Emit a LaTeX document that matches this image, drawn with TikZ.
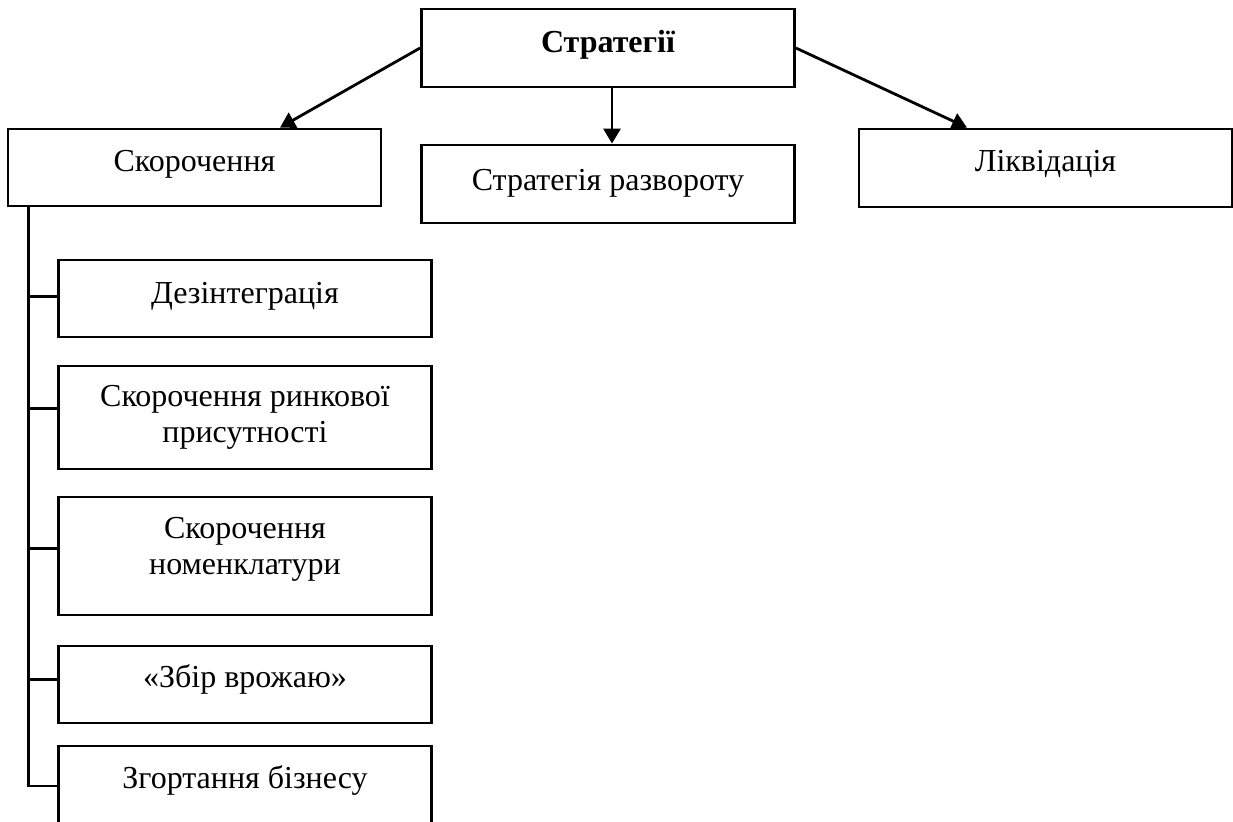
\documentclass[tikz,border=0pt]{standalone}
\usepackage{fontspec}
\setmainfont{Liberation Serif}
\usetikzlibrary{arrows.meta}
\newcommand{\twoline}[2]{\begin{tabular}[t]{@{}c@{}}#1\\#2\end{tabular}}
\tikzset{
	box/.style={draw, line width=1.4pt, minimum width=186.5pt, font=\fontsize{16}{18}\selectfont},
	oneline/.style={text height=12pt, text depth=8pt},
	link/.style={line width=1.4pt},
	arr/.style={link, -{Triangle[length=7.5pt, width=8.5pt]}}
}
\begin{document}
\begin{tikzpicture}[x=0.5pt, y=-0.5pt]
		\useasboundingbox (0,0) rectangle (1233,822);
		\node (top) [box, oneline, minimum height=39pt, text depth=7pt] at (608,48) {\bfseries Стратегії};
		\node (s) [box, oneline, minimum height=38.5pt] at (194.5,167.5) {Скорочення};
		\node (r) [box, oneline, minimum height=39pt, text depth=5pt] at (608,184) {Стратегія развороту};
		\node (l) [box, oneline, minimum height=39pt] at (1045.5,168) {Ліквідація};
		\node (d1) [box, oneline, minimum height=38.5pt, text depth=7pt] at (245,298.5) {Дезінтеграція};
		\node (d2) [box, minimum height=51.5pt, text height=10pt, text depth=21pt] at (245,417.5) {\twoline{Скорочення ринкової}{присутності}};
		\node (d3) [box, minimum height=59pt, text height=10pt, text depth=27pt] at (245,556) {\twoline{Скорочення}{номенклатури}};
		\node (d4) [box, oneline, minimum height=38.5pt, text depth=8.5pt] at (245,684.5) {«Збір врожаю»};
		\node (d5) [box, oneline, minimum height=40pt, text depth=9pt] at (245,786) {Згортання бізнесу};
		\draw [arr] (top.west) -- ([xshift=42.75pt]s.north);
		\draw [arr] ([xshift=2pt]top.south) -- ([xshift=2pt]r.north);
		\draw [arr] (top.east) -- ([xshift=-39.25pt]l.north);
		\coordinate (trunk) at ([xshift=11pt]s.south west);
		\draw [link] (trunk) |- (d5.west);
		\foreach \n/\dy in {d1/1, d2/4.5, d3/3.75, d4/2.5}
			\draw [link] ([yshift=\dy pt]trunk |- \n.west) -- ([yshift=\dy pt]\n.west);
\end{tikzpicture}
\end{document}
